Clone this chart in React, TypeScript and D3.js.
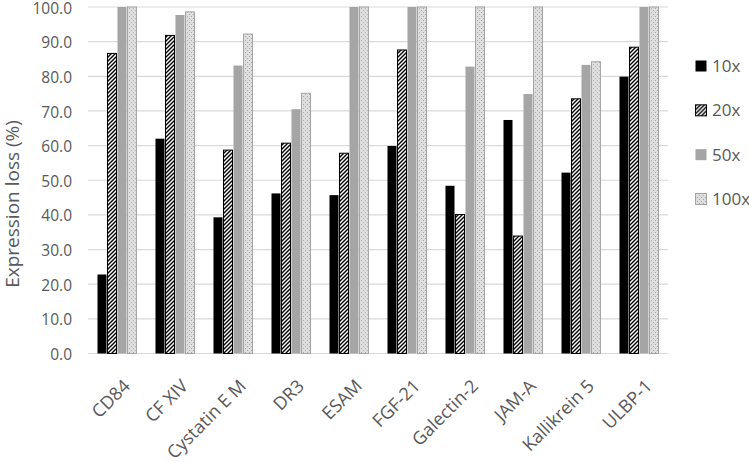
import React from 'react';
import * as d3 from 'd3';

const categories = ['CD84', 'CF XIV', 'Cystatin E M', 'DR3', 'ESAM', 'FGF-21', 'Galectin-2', 'JAM-A', 'Kallikrein 5', 'ULBP-1'];
const seriesNames = ['10x', '20x', '50x', '100x'];
const values10x = [22.8, 62.0, 39.3, 46.2, 45.7, 59.9, 48.4, 67.4, 52.2, 79.9];
const values20x = [86.6, 91.8, 58.7, 60.7, 57.8, 87.6, 40.1, 33.9, 73.5, 88.4];
const values50x = [100, 97.7, 83.1, 70.5, 100, 100, 82.8, 74.9, 83.3, 100];
const values100x = [100, 98.6, 92.2, 75.1, 100, 100, 100, 100, 84.2, 100];
const yTicks = [0, 10, 20, 30, 40, 50, 60, 70, 80, 90, 100];
const yTitle = 'Expression loss (%)';

const W = 749;
const H = 462;
const FONT = "'Open Sans', 'Liberation Sans', sans-serif";
const TEXT = '#595959';

const seriesValues = [values10x, values20x, values50x, values100x];
const fills = ['#000000', 'url(#hatch)', '#A5A5A5', 'url(#dots)'];
const strokes = ['none', '#000000', 'none', '#A5A5A5'];

export default function App() {
  const x = d3.scaleBand<string>().domain(categories).range([88, 668]).paddingInner(0.31).paddingOuter(0.155);
  const xs = d3.scaleBand<string>().domain(seriesNames).range([0, x.bandwidth()]).padding(0);
  const y = d3.scaleLinear().domain([0, 100]).range([353.5, 7]);
  const legendY = d3.scalePoint<string>().domain(seriesNames).range([66, 199]);

  return (
    <svg width={W} height={H} style={{ position: 'absolute', left: 0, top: 0, background: '#fff' }} fontFamily={FONT}>
      <defs>
        <pattern id="hatch" patternUnits="userSpaceOnUse" width="4" height="4">
          <rect width="4" height="4" fill="#fff" />
          <path d="M-1,1 l2,-2 M0,4 l4,-4 M3,5 l2,-2" stroke="#000" strokeWidth="1.4" />
        </pattern>
        <pattern id="dots" patternUnits="userSpaceOnUse" width="4" height="4">
          <rect width="4" height="4" fill="#DEDEDE" />
          <rect x="0" y="0" width="1" height="1" fill="#A8A8A8" />
          <rect x="2" y="2" width="1" height="1" fill="#A8A8A8" />
        </pattern>
      </defs>
      {yTicks.map((t) => (
        <g key={t}>
          <line x1={88} x2={668} y1={y(t)} y2={y(t)} stroke="#D9D9D9" strokeWidth={1.2} />
          <text x={72} y={y(t) + 1} dy="0.36em" textAnchor="end" fontSize={15.5} fill={TEXT}>
            {t.toFixed(1)}
          </text>
        </g>
      ))}
      {categories.map((c, i) => (
        <g key={c} transform={`translate(${x(c)},0)`}>
          {seriesNames.map((s, j) => {
            const v = seriesValues[j][i];
            const bx = (xs(s) as number) + 0.5;
            return (
              <rect
                key={s}
                x={bx}
                y={y(v)}
                width={xs.bandwidth() - 1}
                height={y(0) - y(v)}
                fill={fills[j]}
                stroke={strokes[j]}
                strokeWidth={1}
              />
            );
          })}
        </g>
      ))}
      {categories.map((c) => {
        const cx = (x(c) as number) + x.bandwidth() / 2 + 5;
        return (
          <text
            key={c}
            transform={`translate(${cx},378) rotate(-45)`}
            textAnchor="end"
            dy="0.72em"
            fontSize={18}
            fill={TEXT}
          >
            {c}
          </text>
        );
      })}
      <text transform={`translate(12,204) rotate(-90)`} textAnchor="middle" dy="0.35em" fontSize={19} fill={TEXT}>
        {yTitle}
      </text>
      {seriesNames.map((s, j) => (
        <g key={s} transform={`translate(695,${legendY(s)})`}>
          <rect x={0.5} y={-5.5} width={11} height={11} fill={fills[j]} stroke={strokes[j] === 'none' ? 'none' : strokes[j]} strokeWidth={1} />
          <text x={17} y={0} dy="0.36em" fontSize={17} fill={TEXT}>
            {s}
          </text>
        </g>
      ))}
    </svg>
  );
}
